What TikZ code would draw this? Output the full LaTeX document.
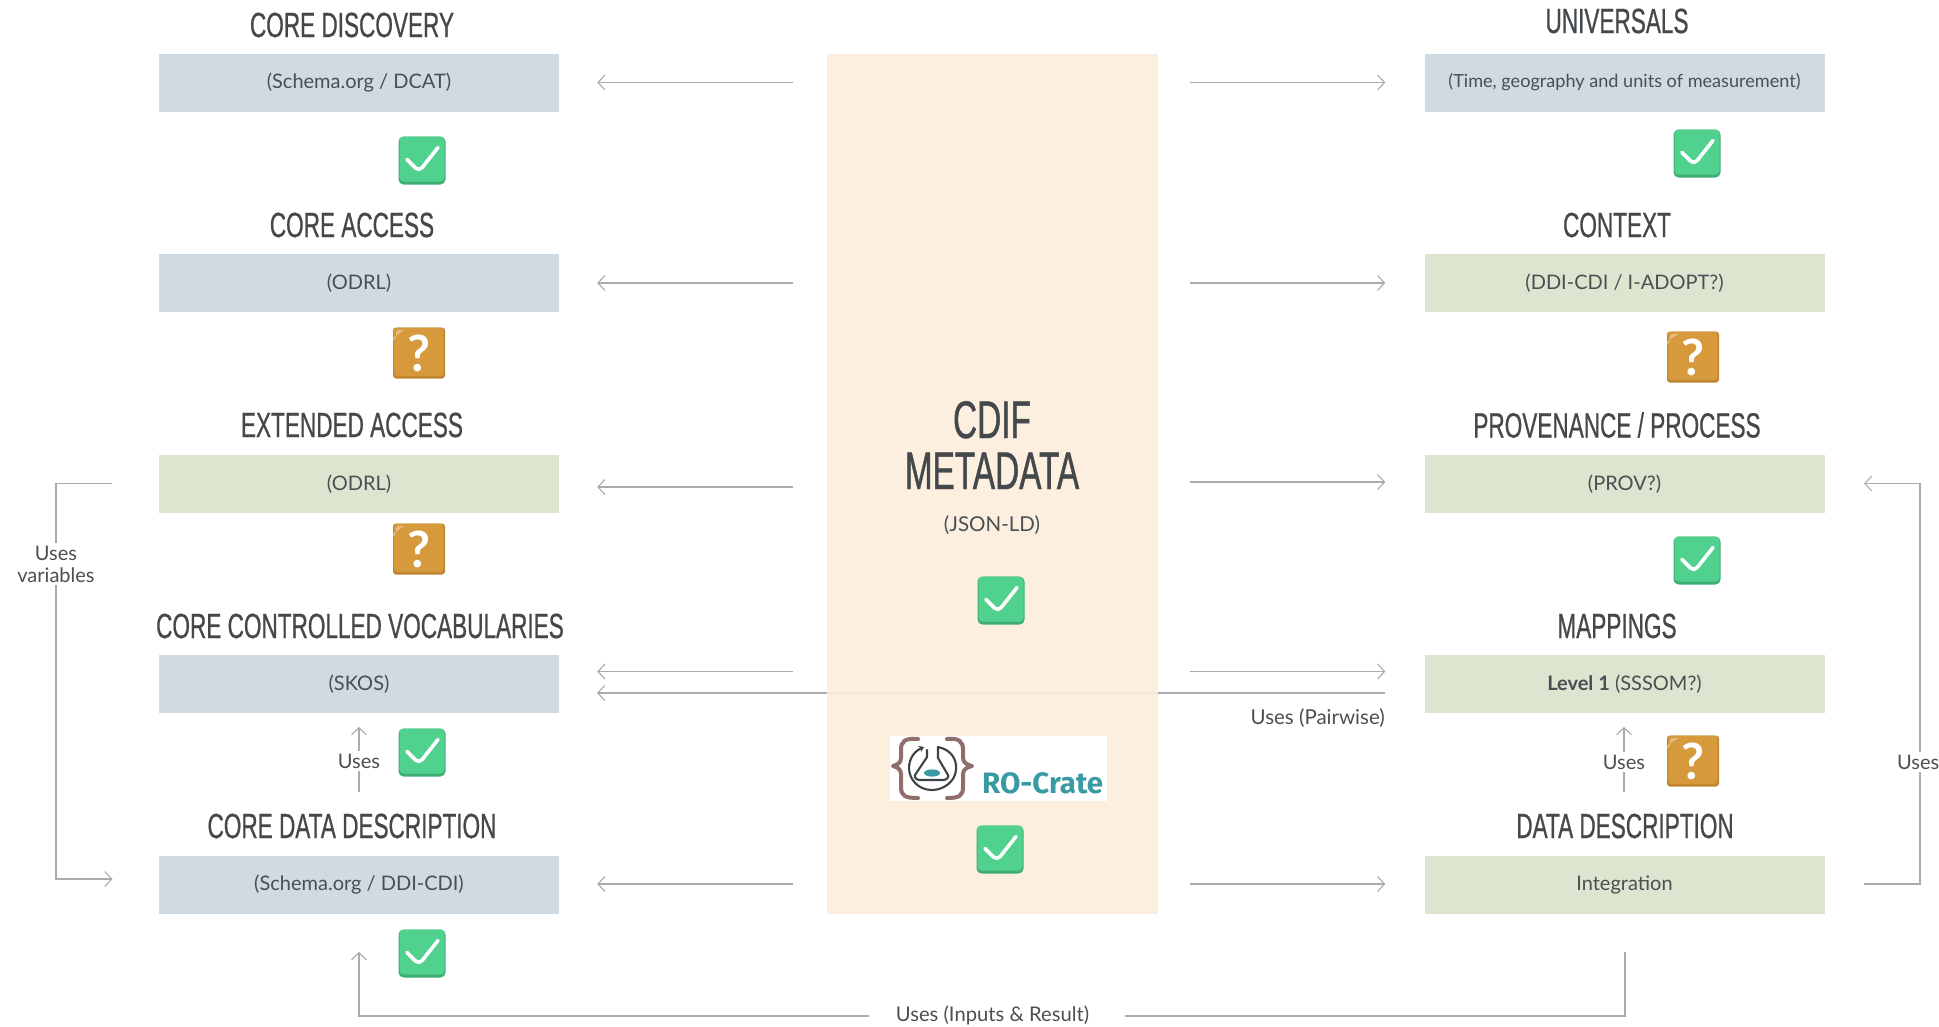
\documentclass[tikz,border=0pt]{standalone}
\usepackage{fontspec}
\setmainfont{Lato}
\newfontfamily\headfont[FakeStretch=0.645,FakeBold=0.6]{Liberation Sans}
\newfontfamily\bigfont[FakeStretch=0.63,FakeBold=0.8]{Liberation Sans}
\newfontfamily\logofont{Fira Sans}
\usetikzlibrary{arrows.meta}
\newcommand\boxtxt[1]{\raisebox{-1.2pt}{#1}}
\definecolor{boxblue}{HTML}{D0DAE1}
\definecolor{boxgreen}{HTML}{DCE5CF}
\definecolor{panelc}{HTML}{FDEDDD}
\definecolor{inkc}{HTML}{4A4F52}
\definecolor{headc}{HTML}{44484B}
\definecolor{linec}{HTML}{A8ACAE}
\definecolor{okface}{HTML}{50D28E}
\definecolor{okedge}{HTML}{3FAE76}
\definecolor{qface}{HTML}{D69A3D}
\definecolor{qedge}{HTML}{BE842F}
\definecolor{qshine}{HTML}{E6BE85}
\definecolor{teal}{HTML}{3A9AA3}
\definecolor{bracec}{HTML}{8E6E6B}
\definecolor{flaskc}{HTML}{3C4246}
\tikzset{
  x=1pt,y=-1pt,
  bluebox/.style={fill=boxblue,draw=none,minimum width=400pt,minimum height=58pt,inner sep=0pt,text=inkc,font=\fontsize{20}{25}\selectfont},
  greenbox/.style={bluebox,fill=boxgreen},
  heading/.style={text=headc,inner sep=0pt,font=\headfont\fontsize{35}{38}\selectfont},
  bighead/.style={text=headc,inner sep=0pt,align=center,font=\bigfont\fontsize{53}{51}\selectfont},
  lab/.style={text=inkc,inner sep=0pt,font=\fontsize{20}{22}\selectfont},
  arr/.style={draw=linec,line width=1.4pt,-{Straight Barb[length=7pt,width=15pt,line width=1.1pt]}},
  plainline/.style={draw=linec,line width=1.4pt},
  okbox/.style={draw=none,fill=okedge,rounded corners=5pt,minimum width=47pt,minimum height=48pt,inner sep=0pt,
    path picture={
      \fill[okface,rounded corners=4pt] ([shift={(-22.5pt,-21pt)}]path picture bounding box.center) rectangle ([shift={(22.5pt,24pt)}]path picture bounding box.center);
      \draw[white,line width=3.6pt,line cap=round,line join=round] ([shift={(-15pt,1pt)}]path picture bounding box.center) -- ++(12pt,-12pt) -- ++(19pt,24pt);}},
  qbox/.style={draw=none,fill=qedge,rounded corners=3pt,minimum width=52pt,minimum height=51pt,inner sep=0pt,text=white,
    font=\bfseries\fontsize{50}{50}\selectfont,
    path picture={
      \fill[qface] ([shift={(-25pt,-23pt)}]path picture bounding box.center) rectangle ([shift={(24.5pt,25.5pt)}]path picture bounding box.center);
      \fill[qshine] ([shift={(-23pt,14pt)}]path picture bounding box.center) -- ++(0pt,9pt) -- ++(11pt,0pt) .. controls ++(-6pt,-1pt) and ++(-10pt,-4pt) .. cycle;}}
}
\begin{document}
\begin{tikzpicture}
\useasboundingbox (0,0) rectangle (1939,1026);
% pairwise line runs behind the panel
\coordinate (pairR) at (1385,693);
\coordinate (pairL) at (597,693);
\draw[arr] (pairR) -- (pairL);
% central panel
\node[fill=panelc,fill opacity=.9,draw=none,minimum width=331pt,minimum height=860pt,inner sep=0pt] (panel) at (992.5,484) {};
\node[bighead] (cdif) at (992,445) {CDIF\\METADATA};
\node[lab,font=\fontsize{20.5}{25}\selectfont] (json) at (992,525) {(JSON-LD)};
% left column
\node[bluebox] (b1) at (359,82.5) {\boxtxt{(Schema.org / DCAT)}};
\node[bluebox] (b2) at (359,283) {\boxtxt{(ODRL)}};
\node[greenbox] (b3) at (359,484) {\boxtxt{(ODRL)}};
\node[bluebox] (b4) at (359,684) {\boxtxt{(SKOS)}};
\node[bluebox] (b5) at (359,885) {\boxtxt{(Schema.org / DDI-CDI)}};
\node[heading] (h1) at (352,25) {CORE DISCOVERY};
\node[heading] (h2) at (352,225) {CORE ACCESS};
\node[heading] (h3) at (352,425) {EXTENDED ACCESS};
\node[heading] (h4) at (360,626) {CORE CONTROLLED VOCABULARIES};
\node[heading] (h5) at (352,826) {CORE DATA DESCRIPTION};
% right column
\node[greenbox,fill=boxblue,font=\fontsize{18.1}{25}\selectfont] (r1) at (1624.5,82.5) {\boxtxt{(Time, geography and units of measurement)}};
\node[greenbox] (r2) at (1624.5,283) {\boxtxt{(DDI-CDI / I-ADOPT?)}};
\node[greenbox] (r3) at (1624.5,484) {\boxtxt{(PROV?)}};
\node[greenbox] (r4) at (1624.5,684) {\boxtxt{\textbf{Level 1} (SSSOM?)}};
\node[greenbox] (r5) at (1624.5,885) {\boxtxt{Integration}};
\node[heading] (u1) at (1617,21) {UNIVERSALS};
\node[heading] (u2) at (1617,225) {CONTEXT};
\node[heading] (u3) at (1617,425) {PROVENANCE / PROCESS};
\node[heading] (u4) at (1617,626) {MAPPINGS};
\node[heading] (u5) at (1625,826) {DATA DESCRIPTION};
% horizontal arrows
\foreach \b/\s in {b1/0,b2/0,b3/-3,b4/12.5,b5/1}{
  \draw[arr,shorten <=34pt,shorten >=38pt] ([yshift=\s pt]panel.west |- \b.east) -- ([yshift=\s pt]\b.east);
}
\foreach \b/\s in {r1/0,r2/0,r3/2,r4/12.5,r5/1}{
  \draw[arr,shorten <=32pt,shorten >=39pt] ([yshift=\s pt]panel.east |- \b.west) -- ([yshift=\s pt]\b.west);
}
\node[lab,anchor=east,font=\fontsize{20.5}{22}\selectfont] (pairlab) at (1385,718) {Uses (Pairwise)};
% left loop
\coordinate (lvA) at (112,483.5);
\coordinate (lvB) at (56,483.5);
\coordinate (lvC) at (56,879);
\coordinate (lvD) at (112.5,879);
\draw[arr] (lvA) -- (lvB) -- (lvC) -- (lvD);
\node[lab,fill=white,align=center,inner ysep=3pt] (usesvar) at (56,564) {Uses\\variables};
% right loop
\coordinate (rvA) at (1864,884);
\coordinate (rvB) at (1920,884);
\coordinate (rvC) at (1920,483.5);
\coordinate (rvD) at (1864,483.5);
\draw[arr] (rvA) -- (rvB) -- (rvC) -- (rvD);
\node[lab,fill=white,anchor=west,inner ysep=3pt] (usesr) at (1897,762) {Uses};
% uses between rows
\coordinate (luB) at (359,792);
\coordinate (luT) at (359,727);
\draw[arr] (luB) -- (luT);
\node[lab,fill=white,inner ysep=3pt] (usesl) at (359,761) {Uses};
\coordinate (ruB) at (1624,792);
\coordinate (ruT) at (1624,727);
\draw[arr] (ruB) -- (ruT);
\node[lab,fill=white,inner ysep=3pt] (usesm) at (1624,762) {Uses};
% bottom connector
\coordinate (boR) at (1625,952);
\coordinate (boRd) at (1625,1016);
\coordinate (boGapR) at (1125,1016);
\coordinate (boGapL) at (869,1016);
\coordinate (boLd) at (359,1016);
\coordinate (boL) at (359,952);
\draw[plainline] (boR) -- (boRd) -- (boGapR);
\draw[arr] (boGapL) -- (boLd) -- (boL);
\node[lab,font=\fontsize{20.2}{22}\selectfont] (inres) at (992.5,1015.5) {Uses (Inputs \& Result)};
% status icons
\node[okbox] (k1) at (422,160.5) {};
\node[okbox] (k2) at (422,752.5) {};
\node[okbox] (k3) at (422,953.5) {};
\node[okbox] (k4) at (1001,600.5) {};
\node[okbox] (k5) at (1000,849.5) {};
\node[okbox] (k6) at (1697,153.5) {};
\node[okbox] (k7) at (1697,560.5) {};
\node[qbox] (q1) at (419,353) {?};
\node[qbox] (q2) at (419,549) {?};
\node[qbox] (q3) at (1693,357) {?};
\node[qbox] (q4) at (1693,761) {?};
% RO-Crate logo
\node[fill=white,draw=none,minimum width=217pt,minimum height=65pt,inner sep=0pt] (logo) at (998.5,768.5) {};
\node[text=teal,inner sep=0pt,anchor=base west,font=\logofont\bfseries\fontsize{29.5}{30}\selectfont] (rocrate) at (982,793) {RO-Crate};
\draw[bracec,line width=4pt,line cap=round,line join=round] (918,739) .. controls (905,738) and (901,741) .. (901,750) -- (901,758) .. controls (901,763) and (897,765) .. (893,766) .. controls (897,767) and (901,769) .. (901,774) -- (901,787) .. controls (901,796) and (905,798) .. (918,798);
\draw[bracec,line width=4pt,line cap=round,line join=round] (947,739) .. controls (959,738) and (963,741) .. (963,750) -- (963,758) .. controls (963,763) and (968,765) .. (972,766) .. controls (968,767) and (963,769) .. (963,774) -- (963,787) .. controls (963,796) and (959,798) .. (947,798);
\draw[flaskc,line width=2.1pt,line cap=round,line join=round,-{Stealth[length=5pt,width=7pt]}] (927,750) -- (927,757) -- (915,775) .. controls (914,778) and (917,780) .. (920,780) -- (943,780) .. controls (947,780) and (949,777) .. (948,775) -- (938,758) -- (938,747) .. controls (952,750) and (957,760) .. (956,770) .. controls (955,782) and (943,790) .. (932,790) .. controls (918,790) and (909,779) .. (909,768) .. controls (909,758) and (915,751) .. (924,747);
\fill[teal] (932,773) ellipse [x radius=8,y radius=3.6];
\end{tikzpicture}
\end{document}
